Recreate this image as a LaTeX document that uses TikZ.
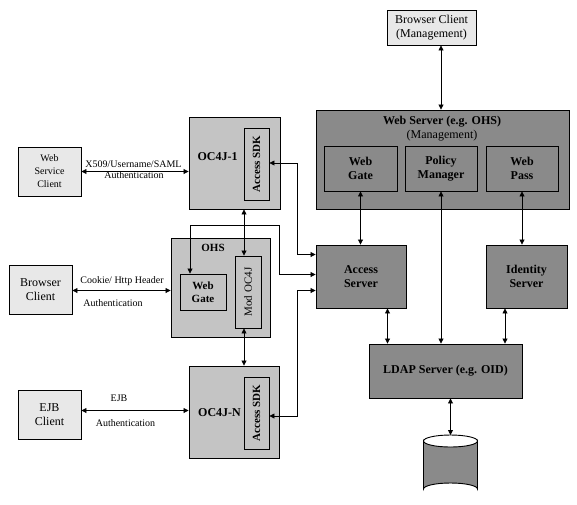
\documentclass[tikz,border=0pt]{standalone}
\usepackage{fontspec}
\setmainfont{Liberation Serif}
\usetikzlibrary{arrows.meta,shapes.geometric}
\definecolor{lightg}{HTML}{E8E8E8}
\definecolor{midg}{HTML}{C4C4C4}
\definecolor{darkg}{HTML}{8A8A8A}
\begin{document}
\begin{tikzpicture}[x=1pt,y=-1pt,
  bx/.style={draw,line width=0.9pt,inner sep=0pt,align=center},
  lt/.style={bx,fill=lightg},
  md/.style={bx,fill=midg},
  dk/.style={bx,fill=darkg},
  fL/.style={font=\fontsize{12}{14}\selectfont},
  fLb/.style={font=\fontsize{12}{14}\selectfont\bfseries},
  fMb/.style={font=\fontsize{11}{13}\selectfont\bfseries},
  fM/.style={font=\fontsize{11}{13}\selectfont},
  fS/.style={font=\fontsize{10}{13}\selectfont},
  txt/.style={inner sep=0pt,align=center},
  dbl/.style={line width=0.8pt,{Triangle[length=5pt,width=5pt]}-{Triangle[length=5pt,width=5pt]}},
  lbl/.style={inner sep=0pt,font=\fontsize{10}{12}\selectfont}]
\useasboundingbox (0,0) rectangle (577,504);

% right side
\node[lt,fL,minimum width=89pt,minimum height=35pt] (bcm) at (431.5,27.5) {Browser Client\\(Management)};
\node[dk,minimum width=253pt,minimum height=99pt] (ws) at (442.5,159.5) {};
\node[txt,fLb] (wstitle) at (442,122) {Web Server (e.g. OHS)};
\node[txt,fL] (wsmgmt) at (442,136) {(Management)};
\node[dk,fLb,minimum width=73pt,minimum height=45pt] (wsg) at (360.5,168.5) {Web\\Gate};
\node[dk,fLb,minimum width=72pt,minimum height=45pt] (pm) at (441,168.5) {Policy\\Manager};
\node[dk,fLb,minimum width=72pt,minimum height=45pt] (wp) at (522,168.5) {Web\\Pass};
\node[dk,fLb,minimum width=90pt,minimum height=63pt] (as) at (361,276.5) {Access\\Server};
\node[dk,fLb,minimum width=81pt,minimum height=63pt] (is) at (526.5,276.5) {Identity\\Server};
\node[dk,fLb,minimum width=153pt,minimum height=54pt] (ldap) at (445.5,371) {LDAP Server (e.g. OID)};

% database cylinder
\coordinate (dbtop) at (450.5,435);
\draw[line width=0.9pt,fill=darkg] (423.5,441) -- (423.5,489)
  arc[start angle=180,end angle=360,x radius=27,y radius=6] -- (477.5,441)
  arc[start angle=0,end angle=180,x radius=27,y radius=6] -- cycle;
\draw[line width=0.9pt] (423.5,441) arc[start angle=180,end angle=360,x radius=27,y radius=6];

% left middle
\node[md,minimum width=91pt,minimum height=92pt] (oc1) at (234.5,163) {};
\node[md,minimum width=25pt,minimum height=72pt] (sdk1) at (256.5,164) {};
\node[txt,fMb,rotate=90] (sdk1t) at (sdk1) {Access SDK};
\node[txt,fLb] (oc1t) at (217.5,157) {OC4J-1};

\node[md,minimum width=99pt,minimum height=99pt] (ohs) at (220.5,287.5) {};
\node[txt,fMb] (ohst) at (213,248) {OHS};
\node[md,fMb,minimum width=46pt,minimum height=36pt] (ohsg) at (203,292) {Web\\Gate};
\node[md,minimum width=26pt,minimum height=72pt] (mod) at (248,292) {};
\node[txt,fM,rotate=90] (modt) at (mod) {Mod OC4J};

\node[md,minimum width=90pt,minimum height=92pt] (ocn) at (234,412) {};
\node[md,minimum width=25pt,minimum height=72pt] (sdkn) at (256.5,413) {};
\node[txt,fMb,rotate=90] (sdknt) at (sdkn) {Access SDK};
\node[txt,fLb] (ocnt) at (219.5,413) {OC4J-N};

% clients
\node[lt,fS,minimum width=63pt,minimum height=49pt] (wsc) at (49.5,171.5) {Web\\Service\\Client};
\node[lt,fL,minimum width=63pt,minimum height=49pt] (bc) at (40.5,289.5) {Browser\\Client};
\node[lt,fL,minimum width=63pt,minimum height=49pt] (ejb) at (49.5,414.5) {EJB\\Client};

% connectors right
\draw[dbl] (bcm.south -| pm.north) -- (ws.north -| pm.north);
\draw[dbl] (wsg.south) -- (wsg.south |- as.north);
\draw[dbl] (pm.south) -- (pm.south |- ldap.north);
\draw[dbl] (wp.south) -- (wp.south |- is.north);
\draw[dbl] ([xshift=26.5pt]as.south) -- ([xshift=26.5pt]as.south |- ldap.north);
\draw[dbl] ([xshift=-21.5pt]is.south) -- ([xshift=-21.5pt]is.south |- ldap.north);
\draw[dbl] (ldap.south -| dbtop) -- (dbtop);

% connectors left
\draw[dbl] (wsc.east) -- (wsc.east -| oc1.west);
\draw[dbl] ([yshift=-1pt]bc.east) -- ([yshift=-1pt]bc.east -| ohs.west);
\draw[dbl] ([yshift=4pt]ejb.east) -- ([yshift=4pt]ejb.east -| ocn.west);
\draw[dbl] ([xshift=-4pt]mod.north) -- ([xshift=-4pt]mod.north |- oc1.south);
\draw[dbl] ([xshift=-4pt]mod.south) -- ([xshift=-4pt]mod.south |- ocn.north);

\coordinate (c1) at (279.5,225.5);
\draw[dbl] ([yshift=1pt]sdk1.east) -| ([xshift=-18.5pt,yshift=22pt]as.west) -- ([yshift=22pt]as.west);
\draw[dbl] ([xshift=-13pt]ohsg.north) |- (c1) |- ([yshift=2pt]as.west);
\draw[dbl] ([yshift=-3pt]sdkn.east) -| ([xshift=-18.5pt,yshift=-14pt]as.west) -- ([yshift=-14pt]as.west);

% labels
\node[lbl] (l1) at (133.5,164.5) {X509/Username/SAML};
\node[lbl] (l2) at (134,175) {Authentication};
\node[lbl] (l3) at (122,281) {Cookie/ Http Header};
\node[lbl] (l4) at (113,303) {Authentication};
\node[lbl] (l5) at (119,398) {EJB};
\node[lbl] (l6) at (125.5,423) {Authentication};
\end{tikzpicture}
\end{document}
